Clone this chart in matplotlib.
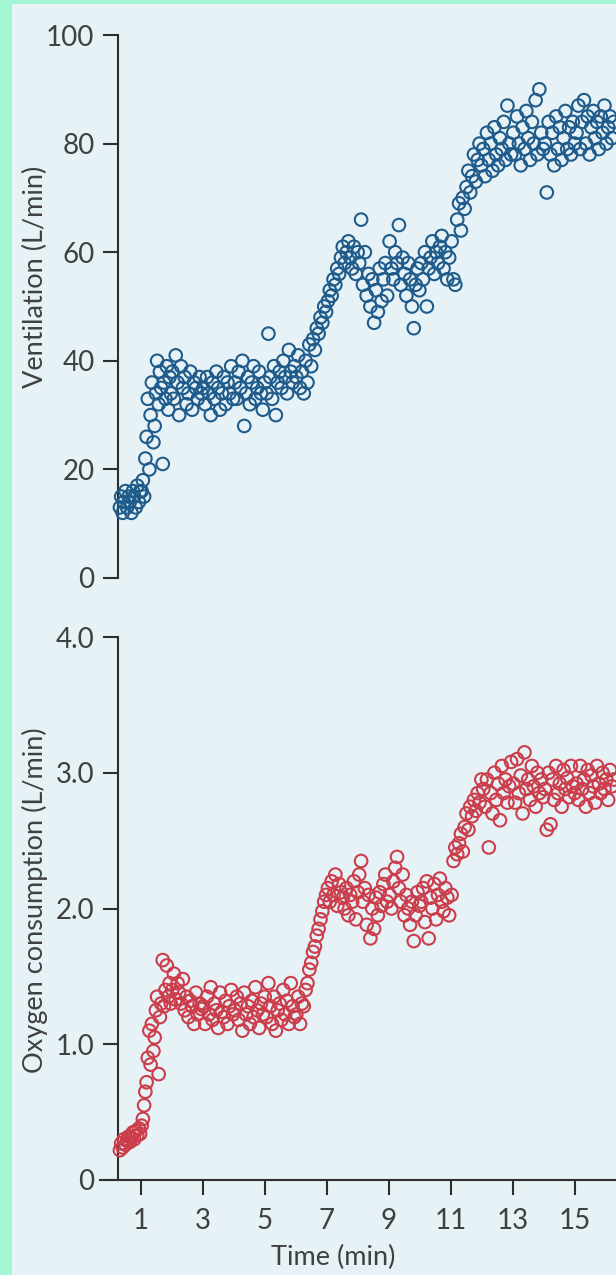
import matplotlib.pyplot as plt
from matplotlib.patches import Rectangle

# breath-by-breath times (min), shared by both panels
time_min = [
    0.32, 0.36, 0.41, 0.45, 0.50, 0.55, 0.60, 0.64, 0.69, 0.74, 0.78, 0.83, 0.88, 0.93, 0.97,
    1.02, 1.06, 1.10, 1.14, 1.18, 1.22, 1.27, 1.31, 1.35, 1.40, 1.44, 1.48, 1.52, 1.57, 1.61,
    1.65, 1.70, 1.74, 1.79, 1.83, 1.88, 1.92, 1.96,
    2.01, 2.06, 2.12, 2.18, 2.23, 2.29, 2.35, 2.41, 2.47, 2.53, 2.59, 2.65, 2.71, 2.77, 2.83, 2.89, 2.95,
    3.01, 3.07, 3.13, 3.19, 3.25, 3.31, 3.37, 3.43, 3.49, 3.55, 3.61, 3.67, 3.73, 3.79, 3.85, 3.91, 3.97,
    4.03, 4.09, 4.15, 4.21, 4.27, 4.33, 4.39, 4.45, 4.51, 4.57, 4.63, 4.69, 4.75, 4.81, 4.87, 4.93, 4.99,
    5.05, 5.11, 5.17, 5.23, 5.29, 5.35, 5.41, 5.47, 5.53, 5.59, 5.65, 5.71, 5.77, 5.83, 5.89, 5.95,
    6.01, 6.07, 6.13, 6.19, 6.25, 6.31, 6.37, 6.43, 6.49, 6.55, 6.61, 6.67, 6.73, 6.79, 6.85, 6.91, 6.97,
    7.03, 7.09, 7.15, 7.21, 7.27, 7.33, 7.39, 7.45, 7.51, 7.57, 7.63, 7.69, 7.75, 7.81, 7.87, 7.93, 7.99,
    8.04, 8.10, 8.16, 8.22, 8.28, 8.34, 8.40, 8.46, 8.52, 8.58, 8.64, 8.70, 8.76, 8.82, 8.88, 8.94,
    9.02, 9.08, 9.14, 9.20, 9.26, 9.32, 9.38, 9.44, 9.50, 9.56, 9.62, 9.68, 9.74, 9.80, 9.86, 9.92, 9.98,
    10.04, 10.10, 10.16, 10.22, 10.28, 10.34, 10.40, 10.46, 10.52, 10.58, 10.64, 10.70, 10.76, 10.82, 10.88, 10.94,
    11.02, 11.08, 11.14, 11.20, 11.26, 11.32, 11.38, 11.44, 11.50, 11.56, 11.62, 11.68, 11.74, 11.80, 11.86, 11.92, 11.98,
    12.04, 12.10, 12.16, 12.22, 12.28, 12.34, 12.40, 12.46, 12.52, 12.58, 12.64, 12.70, 12.76, 12.82, 12.88, 12.94,
    13.01, 13.07, 13.13, 13.19, 13.25, 13.31, 13.37, 13.43, 13.49, 13.55, 13.61, 13.67, 13.73, 13.79, 13.85, 13.91, 13.97,
    14.03, 14.09, 14.15, 14.21, 14.27, 14.33, 14.39, 14.45, 14.51, 14.57, 14.63, 14.69, 14.75, 14.81, 14.87, 14.93, 14.99,
    15.05, 15.11, 15.17, 15.23, 15.29, 15.35, 15.41, 15.47, 15.53, 15.59, 15.65, 15.71, 15.77, 15.83, 15.89, 15.95,
    16.01, 16.07, 16.13, 16.19, 16.25,
]

# ventilation (L/min)
ventilation = [
    13, 15, 12, 14, 16, 13, 15, 14, 12, 16, 15, 13, 17, 14, 16,
    16, 18, 15, 22, 26, 33, 20, 30, 36, 25, 28, 34, 40, 32, 38, 35, 21, 36, 33, 39, 31, 37, 34,
    38, 33, 41, 36, 30, 39, 35, 37, 32, 34, 38, 31, 36, 35, 33, 37, 34,
    35, 32, 37, 34, 30, 36, 33, 38, 35, 31, 34, 37, 32, 36, 34, 39, 33,
    36, 33, 38, 35, 40, 28, 34, 37, 32, 36, 39, 33, 35, 38, 34, 31, 36,
    34, 45, 37, 33, 39, 30, 36, 38, 35, 40, 37, 34, 42, 38, 36, 39,
    37, 41, 35, 38, 34, 40, 36, 43, 39, 44, 42, 46, 45, 48, 47, 50, 49,
    51, 53, 52, 55, 54, 57, 56, 59, 61, 58, 60, 62, 59, 57, 61, 56, 60,
    58, 66, 54, 60, 52, 56, 50, 55, 47, 53, 49, 57, 51, 55, 58, 52,
    62, 57, 55, 60, 58, 65, 54, 59, 56, 52, 58, 55, 50, 46, 54, 57, 53,
    58, 55, 60, 50, 57, 59, 62, 56, 60, 58, 61, 63, 57, 60, 55, 59,
    62, 55, 54, 66, 69, 64, 70, 68, 72, 75, 71, 74, 78, 73, 77, 80, 76,
    79, 74, 82, 77, 80, 75, 83, 78, 76, 81, 79, 84, 77, 87, 80, 78,
    82, 78, 85, 80, 76, 83, 79, 86, 81, 77, 84, 80, 88, 78, 90, 82, 79,
    80, 71, 84, 78, 82, 76, 85, 79, 83, 77, 81, 86, 79, 83, 78, 84, 80,
    82, 87, 79, 84, 88, 80, 85, 78, 83, 86, 81, 84, 79, 85, 82, 87,
    80, 83, 85, 81, 84,
]

# oxygen consumption (L/min)
oxygen = [
    0.22, 0.27, 0.24, 0.30, 0.26, 0.29, 0.32, 0.28, 0.31, 0.35, 0.30, 0.36, 0.33, 0.38, 0.34,
    0.40, 0.45, 0.55, 0.65, 0.72, 0.90, 1.10, 0.85, 1.15, 0.95, 1.05, 1.25, 1.35, 0.78, 1.20,
    1.30, 1.62, 1.28, 1.40, 1.58, 1.35, 1.45, 1.30,
    1.40, 1.52, 1.33, 1.45, 1.38, 1.30, 1.48, 1.25, 1.35, 1.20, 1.32, 1.28, 1.15, 1.38, 1.22, 1.30, 1.26,
    1.28, 1.15, 1.35, 1.22, 1.42, 1.18, 1.30, 1.25, 1.12, 1.38, 1.24, 1.20, 1.32, 1.15, 1.28, 1.40, 1.22,
    1.25, 1.35, 1.18, 1.30, 1.10, 1.38, 1.22, 1.28, 1.15, 1.32, 1.20, 1.42, 1.25, 1.12, 1.30, 1.22, 1.35,
    1.20, 1.45, 1.28, 1.15, 1.35, 1.10, 1.25, 1.30, 1.18, 1.40, 1.22, 1.32, 1.15, 1.45, 1.28, 1.20,
    1.22, 1.35, 1.15, 1.30, 1.28, 1.40, 1.45, 1.55, 1.60, 1.68, 1.72, 1.80, 1.85, 1.92, 1.98, 2.05, 2.10,
    2.15, 2.05, 2.20, 2.10, 2.25, 2.02, 2.18, 2.12, 2.08, 2.00, 2.15, 1.95, 2.10, 2.05, 2.20, 1.92, 2.12,
    2.25, 2.35, 2.05, 2.15, 1.88, 2.10, 1.78, 2.00, 1.85, 2.08, 1.95, 2.12, 2.02, 2.18, 2.25, 2.05,
    2.10, 2.00, 2.20, 2.30, 2.38, 2.15, 2.05, 2.25, 1.95, 2.10, 2.00, 1.88, 2.05, 1.76, 1.95, 2.12, 2.02,
    2.05, 2.15, 1.90, 2.20, 1.78, 2.08, 2.00, 2.18, 1.92, 2.10, 2.22, 2.05, 1.98, 2.15, 2.08, 1.95,
    2.10, 2.35, 2.45, 2.40, 2.48, 2.55, 2.42, 2.60, 2.70, 2.58, 2.75, 2.68, 2.80, 2.72, 2.85, 2.78, 2.95,
    2.88, 2.75, 2.95, 2.45, 2.85, 2.70, 3.00, 2.80, 2.92, 2.65, 3.05, 2.85, 2.95, 2.78, 2.90, 3.08,
    2.92, 2.78, 3.10, 2.85, 2.98, 2.70, 3.15, 2.88, 2.95, 2.80, 3.05, 2.90, 2.75, 3.00, 2.85, 2.95, 2.82,
    2.88, 2.58, 3.00, 2.62, 2.95, 2.80, 3.05, 2.85, 2.92, 2.75, 3.02, 2.88, 2.96, 2.82, 3.05, 2.90, 2.85,
    2.92, 2.80, 3.05, 2.88, 2.95, 2.75, 3.02, 2.85, 2.98, 2.90, 2.78, 3.05, 2.92, 2.85, 3.00, 2.88,
    2.95, 2.80, 3.02, 2.90, 2.95,
]

x_ticks = [1, 3, 5, 7, 9, 11, 13, 15]
vent_ticks = [0, 20, 40, 60, 80, 100]
oxy_ticks = [0, 1.0, 2.0, 3.0, 4.0]
oxy_labels = ['0', '1.0', '2.0', '3.0', '4.0']

plt.rcParams['font.family'] = ['Lato', 'DejaVu Sans']
text_color = '#404040'
axis_color = '#2e2e2e'
page_color = '#e6f2f6'

W, H = 616, 1275
fig = plt.figure(figsize=(W / 100, H / 100), dpi=100)
fig.patch.set_facecolor('#a2f7d2')
fig.patches.append(Rectangle((12 / W, 0), 1, (H - 4) / H, transform=fig.transFigure,
                             facecolor=page_color, edgecolor='none', zorder=-5))

left = 100 / W
width = 1 - left
x_lim = (-0.323, 16.323)
spine_x = 0.26

ax1 = fig.add_axes([left, 1 - 578 / H, width, (578 - 35) / H])
ax2 = fig.add_axes([left, 1 - 1180 / H, width, (1180 - 637) / H])

for ax in (ax1, ax2):
    ax.set_facecolor('none')
    ax.set_xlim(*x_lim)
    ax.spines['top'].set_visible(False)
    ax.spines['right'].set_visible(False)
    ax.spines['left'].set_position(('data', spine_x))
    ax.spines['left'].set_linewidth(1.5)
    ax.spines['left'].set_color(axis_color)
    ax.tick_params(axis='y', direction='out', length=11, width=1.5, color=axis_color,
                   labelsize=20, labelcolor=text_color, pad=6)

ax1.scatter(time_min, ventilation, s=82, facecolors='none', edgecolors='#1f5b8b',
            linewidths=1.5, clip_on=False, zorder=3)
ax1.set_ylim(0, 100)
ax1.set_yticks(vent_ticks)
ax1.spines['bottom'].set_visible(False)
ax1.set_xticks([])

ax2.scatter(time_min, oxygen, s=82, facecolors='none', edgecolors='#cc3d4b',
            linewidths=1.5, clip_on=False, zorder=3)
ax2.set_ylim(0, 4)
ax2.set_yticks(oxy_ticks)
ax2.set_yticklabels(oxy_labels)
ax2.spines['bottom'].set_linewidth(1.5)
ax2.spines['bottom'].set_color(axis_color)
ax2.set_xticks(x_ticks)
ax2.tick_params(axis='x', direction='out', length=11, width=1.5, color=axis_color,
                labelsize=20, labelcolor=text_color, pad=9)

fig.text(35 / W, 1 - 277 / H, 'Ventilation (L/min)', rotation=90, ha='center', va='center',
         fontsize=19.5, color=text_color)
fig.text(35 / W, 1 - 900 / H, 'Oxygen consumption (L/min)', rotation=90, ha='center', va='center',
         fontsize=19.5, color=text_color)
fig.text(333 / W, 1 - 1257 / H, 'Time (min)', ha='center', va='center',
         fontsize=19.5, color=text_color)

fig.savefig('out.png', dpi=100, facecolor=fig.get_facecolor())
